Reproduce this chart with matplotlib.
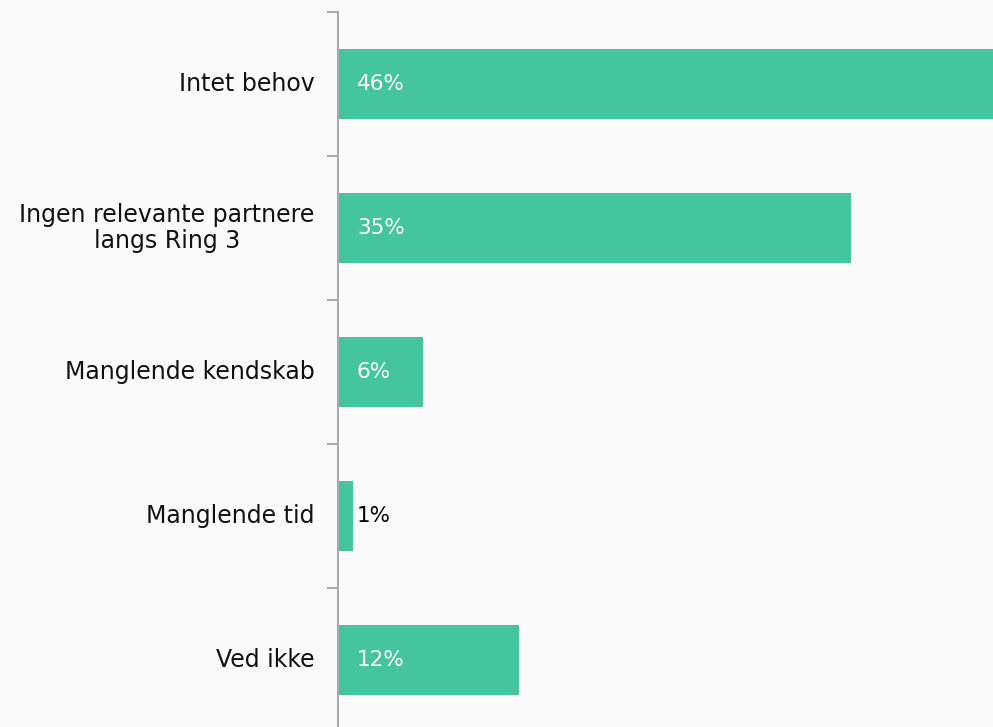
import matplotlib.pyplot as plt

# Data
categories = ["Intet behov", "Ingen relevante partnere\nlangs Ring 3",
              "Manglende kendskab", "Manglende tid", "Ved ikke"]
values = [46.3, 35.1, 5.7, 0.95, 12.3]
labels = ["46%", "35%", "6%", "1%", "12%"]

bar_color = "#45c59e"
bg = "#fafafa"

fig = plt.figure(figsize=(9.93, 7.27), dpi=100, facecolor=bg)
ax = fig.add_axes([338 / 993, 1 - 732 / 727, 1 - 338 / 993, 720 / 727])
ax.set_facecolor(bg)

ypos = list(range(len(categories)))
ax.barh(ypos, values, height=0.48, color=bar_color, left=0.1)
ax.set_xlim(0, 44.9)
ax.set_ylim(len(categories) - 0.5, -0.5)

# labels: white inside bars, black beside the tiny one
for y, v, lab in zip(ypos, values, labels):
    if v < 2:
        ax.text(v + 0.3, y, lab, va="center", ha="left", fontsize=15.5, color="black")
    else:
        ax.text(1.3, y, lab, va="center", ha="left", fontsize=15.5, color="white")

# category names as text, ticks at the band boundaries
ax.set_yticks([y + 0.5 for y in ypos[:-1]] + [-0.5])
ax.set_yticklabels([])
ax.tick_params(axis="y", length=8, color="#aaaaaa", width=1.5)
for y, cat in zip(ypos, categories):
    ax.text(-1.6, y, cat, ha="right", va="center", fontsize=17,
            multialignment="center", linespacing=1.1, color="#111111")

ax.set_xticks([])
for side in ["top", "right", "bottom"]:
    ax.spines[side].set_visible(False)
ax.spines["left"].set_color("#aaaaaa")
ax.spines["left"].set_linewidth(1.5)

fig.savefig("out.png", dpi=100, facecolor=bg)
